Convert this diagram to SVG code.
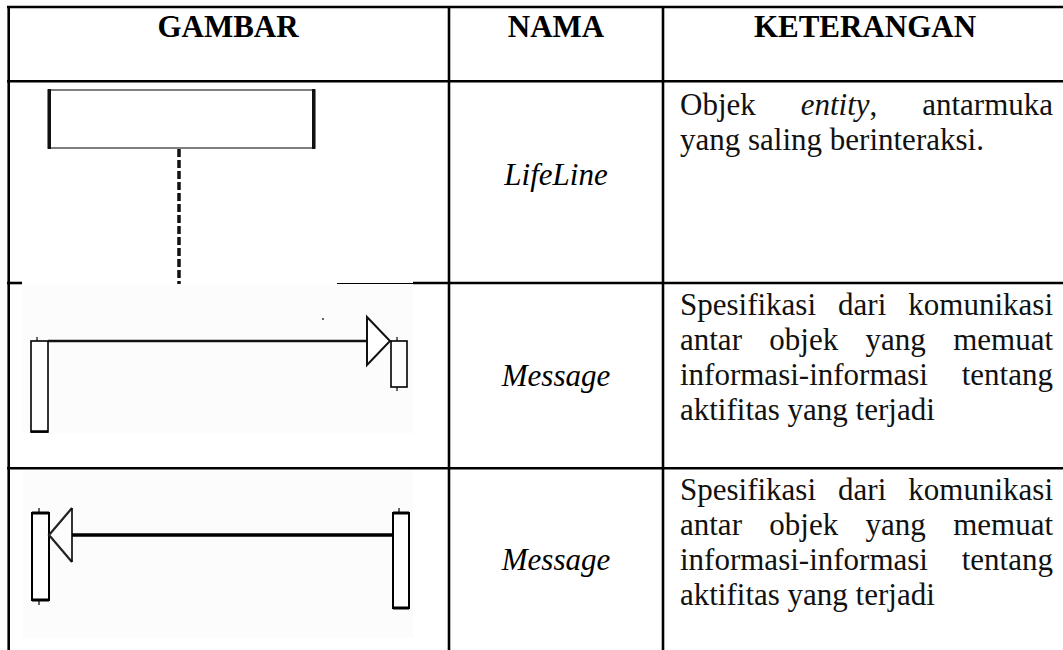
<svg xmlns="http://www.w3.org/2000/svg" width="1063" height="650" viewBox="0 0 1063 650">
  <style>
    .rule { stroke: #000; stroke-width: 2.6; fill: none; }
    .hdr { font-family: "Liberation Serif", "Times New Roman", serif; font-size: 31px; font-weight: bold; text-anchor: middle; fill: #000; }
    .name { font-family: "Liberation Serif", "Times New Roman", serif; font-size: 31px; font-style: italic; text-anchor: middle; fill: #000; }
    .body { font-family: "Liberation Serif", "Times New Roman", serif; font-size: 31px; fill: #111; }
    .end { text-anchor: end; }
    .it { font-style: italic; }
    .thin { stroke: #000; stroke-width: 1.6; fill: #fff; }
    .tick { stroke: #000; stroke-width: 1.2; }
  </style>

  <rect width="1063" height="650" fill="#fff"/>

  <!-- table rules -->
  <g id="table">
    <line class="rule" x1="7" y1="7" x2="1063" y2="7"/>
    <line class="rule" x1="8.7" y1="6" x2="8.7" y2="650"/>
    <line class="rule" x1="449" y1="6" x2="449" y2="650"/>
    <line class="rule" x1="663" y1="6" x2="663" y2="650"/>
    <line class="rule" x1="7" y1="81.3" x2="1063" y2="81.3"/>
    <!-- rule under row 1 is partly covered by the message figure -->
    <line class="rule" x1="7" y1="283" x2="22" y2="283"/>
    <line class="rule" x1="413" y1="283" x2="1063" y2="283"/>
    <line class="rule" x1="7" y1="468.3" x2="1063" y2="468.3"/>
  </g>

  <!-- header row -->
  <g id="header">
    <text class="hdr" x="228" y="37">GAMBAR</text>
    <text class="hdr" x="556" y="37">NAMA</text>
    <text class="hdr" x="865" y="37">KETERANGAN</text>
  </g>

  <!-- row 1: lifeline -->
  <g id="lifeline-figure">
    <rect x="48" y="90" width="267" height="58" fill="#fff" stroke="#555" stroke-width="1.5"/>
    <line x1="49.5" y1="89" x2="49.5" y2="149" stroke="#111" stroke-width="3"/>
    <line x1="313.5" y1="89" x2="313.5" y2="149" stroke="#111" stroke-width="3"/>
    <line x1="179" y1="149" x2="179" y2="284" stroke="#111" stroke-width="3.5" stroke-dasharray="8 3"/>
  </g>
  <g id="lifeline-name">
    <text class="name" x="556" y="185">LifeLine</text>
  </g>
  <g id="lifeline-desc">
    <text class="body" x="680" y="115">Objek</text>
    <text class="body it" x="800.7" y="115">entity<tspan style="font-style:normal">,</tspan></text>
    <text class="body end" x="1053" y="115">antarmuka</text>
    <text class="body" x="680" y="150">yang saling berinteraksi.</text>
  </g>

  <!-- row 2: synchronous message -->
  <g id="message-call-figure">
    <rect x="22" y="284.4" width="391" height="149" fill="#fcfcfc"/>
    <line x1="337" y1="283.5" x2="413" y2="283.5" stroke="#000" stroke-width="1"/>
    <circle cx="323" cy="319" r="1" fill="#333"/>
    <line class="tick" x1="37" y1="337" x2="37" y2="341"/>
    <rect class="thin" x="31" y="341" width="17" height="91"/>
    <line x1="31" y1="431.5" x2="48" y2="431.5" stroke="#000" stroke-width="2.5"/>
    <line x1="48" y1="341" x2="367" y2="341" stroke="#111" stroke-width="2.6"/>
    <polygon points="367,317 390,341 367,365" fill="#fff" stroke="#111" stroke-width="2"/>
    <line class="tick" x1="397" y1="337" x2="397" y2="341"/>
    <line class="tick" x1="397" y1="387" x2="397" y2="391"/>
    <rect class="thin" x="391" y="341" width="16" height="46"/>
  </g>
  <g id="message-call-name">
    <text class="name" x="556" y="386">Message</text>
  </g>
  <g id="message-call-desc">
    <text class="body" x="680" y="315">Spesifikasi</text>
    <text class="body" x="838.1" y="315">dari</text>
    <text class="body end" x="1053" y="315">komunikasi</text>
    <text class="body" x="680" y="350">antar</text>
    <text class="body" x="769.3" y="350">objek</text>
    <text class="body" x="865.5" y="350">yang</text>
    <text class="body end" x="1053" y="350">memuat</text>
    <text class="body" x="680" y="385">informasi-informasi</text>
    <text class="body end" x="1053" y="385">tentang</text>
    <text class="body" x="680" y="420">aktifitas yang terjadi</text>
  </g>

  <!-- row 3: return message -->
  <g id="message-return-figure">
    <rect x="23" y="470" width="390" height="168" fill="#fcfcfc"/>
    <line class="tick" x1="39" y1="508" x2="39" y2="513"/>
    <line class="tick" x1="39" y1="600" x2="39" y2="605"/>
    <rect x="32" y="513" width="17" height="87" fill="#fff" stroke="#000" stroke-width="2"/>
    <line x1="32" y1="513" x2="49" y2="513" stroke="#000" stroke-width="3"/>
    <line x1="32" y1="600" x2="49" y2="600" stroke="#000" stroke-width="3"/>
    <polyline points="72,508 49,535 72,562" fill="none" stroke="#222" stroke-width="2.2"/>
    <line x1="72" y1="508" x2="72" y2="562" stroke="#000" stroke-width="1.6"/>
    <line x1="72" y1="535" x2="393" y2="535" stroke="#000" stroke-width="3.6"/>
    <line class="tick" x1="399" y1="508" x2="399" y2="513"/>
    <rect x="393" y="513" width="16" height="95" fill="#fff" stroke="#000" stroke-width="2"/>
    <line x1="393" y1="513" x2="409" y2="513" stroke="#000" stroke-width="3"/>
    <line x1="393" y1="608" x2="409" y2="608" stroke="#000" stroke-width="3"/>
  </g>
  <g id="message-return-name">
    <text class="name" x="556" y="570">Message</text>
  </g>
  <g id="message-return-desc">
    <text class="body" x="680" y="500">Spesifikasi</text>
    <text class="body" x="838.1" y="500">dari</text>
    <text class="body end" x="1053" y="500">komunikasi</text>
    <text class="body" x="680" y="535">antar</text>
    <text class="body" x="769.3" y="535">objek</text>
    <text class="body" x="865.5" y="535">yang</text>
    <text class="body end" x="1053" y="535">memuat</text>
    <text class="body" x="680" y="570">informasi-informasi</text>
    <text class="body end" x="1053" y="570">tentang</text>
    <text class="body" x="680" y="605">aktifitas yang terjadi</text>
  </g>
</svg>
